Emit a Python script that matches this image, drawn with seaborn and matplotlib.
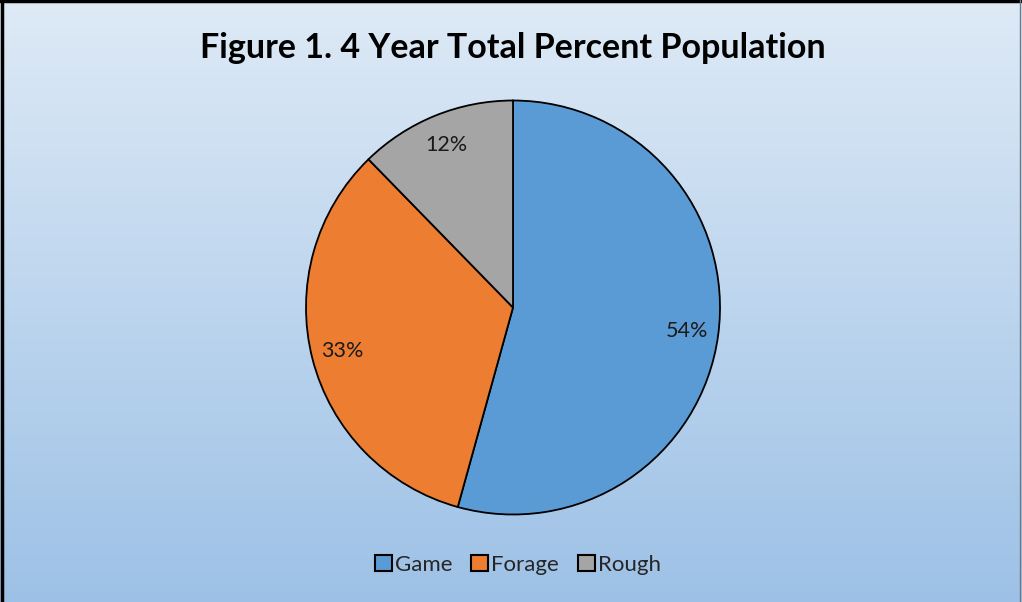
import numpy as np
import matplotlib
matplotlib.use("Agg")
import matplotlib.pyplot as plt
import seaborn as sns
from matplotlib.patches import Patch

categories = ["Game", "Forage", "Rough"]
values = [54.3, 33.4, 12.3]
colors = ["#5b9bd5", "#ed7d31", "#a5a5a5"]
title = "Figure 1. 4 Year Total Percent Population"

sns.set_theme(style="white")
plt.rcParams['font.family'] = ['Lato', 'DejaVu Sans']

W, H = 1022, 602
fig = plt.figure(figsize=(W / 100, H / 100), dpi=100)

# background gradient
bg = fig.add_axes([0, 0, 1, 1])
grad = np.linspace(0, 1, 256).reshape(-1, 1)
top = np.array([0xde, 0xea, 0xf6]) / 255
bot = np.array([0x9d, 0xc1, 0xe6]) / 255
img = top[None, None, :] * (1 - grad[:, :, None]) + bot[None, None, :] * grad[:, :, None]
bg.imshow(img, aspect='auto', extent=[0, 1, 0, 1], origin='upper')
bg.set_xlim(0, 1); bg.set_ylim(0, 1)
bg.axis('off')
# border
bg.plot([0.0015, 0.0015], [0, 1], color='black', lw=2.5, transform=bg.transAxes, clip_on=False)
bg.plot([0, 1], [0.998, 0.998], color='black', lw=2.5, transform=bg.transAxes, clip_on=False)
bg.plot([0.9985, 0.9985], [0, 1], color='#6a7a8a', lw=1.0, transform=bg.transAxes, clip_on=False)

# pie
cx, cy, r = 513, 602 - 307.5, 207
ax = fig.add_axes([(cx - r) / W, (cy - r) / H, 2 * r / W, 2 * r / H])
wedges, texts, autotexts = ax.pie(
    values, colors=colors, startangle=90, counterclock=False,
    autopct=lambda p: f"{p:.0f}%", pctdistance=0.85, radius=1,
    wedgeprops=dict(edgecolor='black', linewidth=1.3),
    textprops=dict(fontsize=15.5, color='#1a1a1a'))
ax.set_xlim(-1.0, 1.0); ax.set_ylim(-1.0, 1.0)
ax.set_aspect('equal')
ax.axis('off')

fig.text(513 / W, 1 - 48 / H, title, ha='center', va='center',
         fontsize=24.5, fontweight='bold', color='black')

handles = [Patch(facecolor=c, edgecolor='black', linewidth=1.5) for c in colors]
fig.legend(handles, categories, loc='center', bbox_to_anchor=(518 / W, 1 - 565 / H),
           ncol=3, frameon=False, fontsize=16, handlelength=0.75, handleheight=0.75,
           handletextpad=0.15, columnspacing=0.85)

fig.savefig("out.png", dpi=100)
